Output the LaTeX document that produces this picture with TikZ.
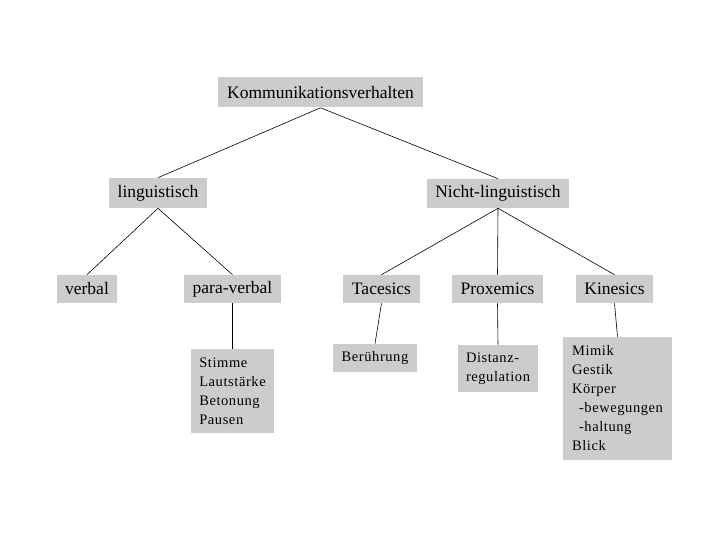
\documentclass[tikz,border=0pt]{standalone}
\usepackage{fontspec}
\setmainfont{Liberation Serif}
\newfontfamily\listfont[LetterSpace=4]{Liberation Serif}
\definecolor{boxgray}{RGB}{204,204,204}
\tikzset{
	box/.style={fill=boxgray, inner sep=0pt, minimum height=29, font=\fontsize{17.5}{20}\selectfont},
	listbox/.style={fill=boxgray, inner sep=0pt, align=left, font=\listfont\fontsize{14.5}{19}\selectfont},
}
\begin{document}
\begin{tikzpicture}[x=1pt, y=-1pt, line width=0.6pt]
	\useasboundingbox [fill=white] (0, 0) rectangle (720, 540);

	%top levels
	\node [box, minimum width=205, minimum height=30] (komm) at (320.5, 92.5) {Kommunikationsverhalten};
	\node [box, minimum width=98, minimum height=30] (ling) at (158, 193) {linguistisch};
	\node [box, minimum width=142] (nicht) at (498, 193.5) {Nicht-linguistisch};

	%third level
	\node [box, minimum width=60, minimum height=28] (verbal) at (87, 289) {verbal};
	\node [box, minimum width=97, minimum height=28] (para) at (232.5, 289) {para-verbal};
	\node [box, minimum width=77, minimum height=28] (tac) at (381.5, 289) {Tacesics};
	\node [box, minimum width=91, minimum height=28] (prox) at (497.5, 289) {Proxemics};
	\node [box, minimum width=77, minimum height=28] (kin) at (614.5, 289) {Kinesics};

	%lists
	\node [listbox, minimum width=83, minimum height=84] (stimme) at (232.5, 391) {Stimme\\Lautstärke\\Betonung\\Pausen};
	\node [listbox, minimum width=84, minimum height=28] (beruehr) at (375, 358) {Berührung};
	\node [listbox, minimum width=80, minimum height=47] (distanz) at (498, 368.5) {Distanz-\\regulation};
	\node [listbox, minimum width=109, minimum height=123] (kinlist) at (617.5, 398.5) {Mimik\\Gestik\\Körper\\\hspace*{7pt}-bewegungen\\\hspace*{7pt}-haltung\\Blick};

	%paths
	\foreach \a/\b in {komm/ling, komm/nicht, ling/verbal, ling/para, nicht/tac, nicht/prox, nicht/kin, para/stimme, tac/beruehr, prox/distanz, kin/kinlist}
		\draw (\a.south) -- (\b.north);

\end{tikzpicture}
\end{document}
